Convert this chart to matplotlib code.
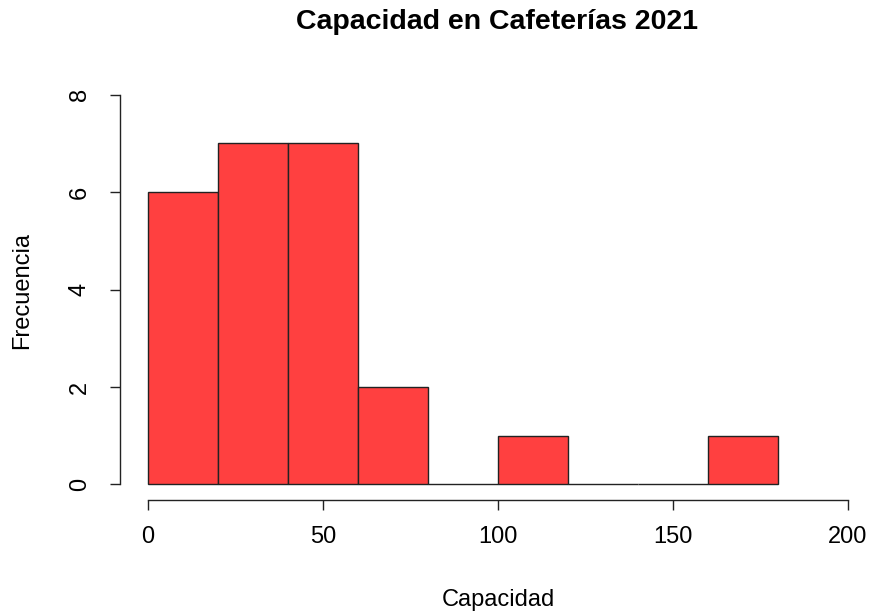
import matplotlib.pyplot as plt

plt.rcParams['font.family'] = ['Liberation Sans', 'DejaVu Sans']

# histogram bins and counts
bin_edges = [0, 20, 40, 60, 80, 100, 120, 140, 160, 180]
counts = [6, 7, 7, 2, 0, 1, 0, 0, 1]
x_ticks = [0, 50, 100, 150, 200]
y_ticks = [0, 2, 4, 6, 8]

fig = plt.figure(figsize=(8.7, 6.14), dpi=100)
W, H = 870, 614
ax = fig.add_axes([120 / W, 1 - 500 / H, 756 / W, 421 / H])

lefts = bin_edges[:-1]
widths = [b - a for a, b in zip(bin_edges[:-1], bin_edges[1:])]
ax.bar(lefts, counts, width=widths, align='edge', color='#FF4040',
       edgecolor='#222222', linewidth=1)

ax.set_xlim(-8, 208)
ax.set_ylim(-0.32, 8.32)

for s in ['top', 'right']:
    ax.spines[s].set_visible(False)
ax.spines['left'].set_bounds(0, 8)
ax.spines['bottom'].set_bounds(0, 200)
for s in ['left', 'bottom']:
    ax.spines[s].set_linewidth(1)
    ax.spines[s].set_color('#222222')

ax.set_xticks(x_ticks)
ax.set_yticks(y_ticks)
ax.set_yticklabels([str(v) for v in y_ticks], rotation=90, va='center')
ax.tick_params(axis='both', length=7, width=1, color='#222222', labelsize=17)
ax.tick_params(axis='x', pad=12)
ax.tick_params(axis='y', pad=14)

ax.set_xlabel('Capacidad', fontsize=17, va='center')
ax.xaxis.set_label_coords(0.5, -0.2375)
ax.set_ylabel('Frecuencia', fontsize=17, va='center')
ax.yaxis.set_label_coords(-0.1296, 0.4988)
fig.suptitle('Capacidad en Cafeterías 2021', fontsize=20.5, fontweight='bold',
             x=497 / W, y=1 - 22 / H, va='center')

fig.savefig('out.png', dpi=100)
